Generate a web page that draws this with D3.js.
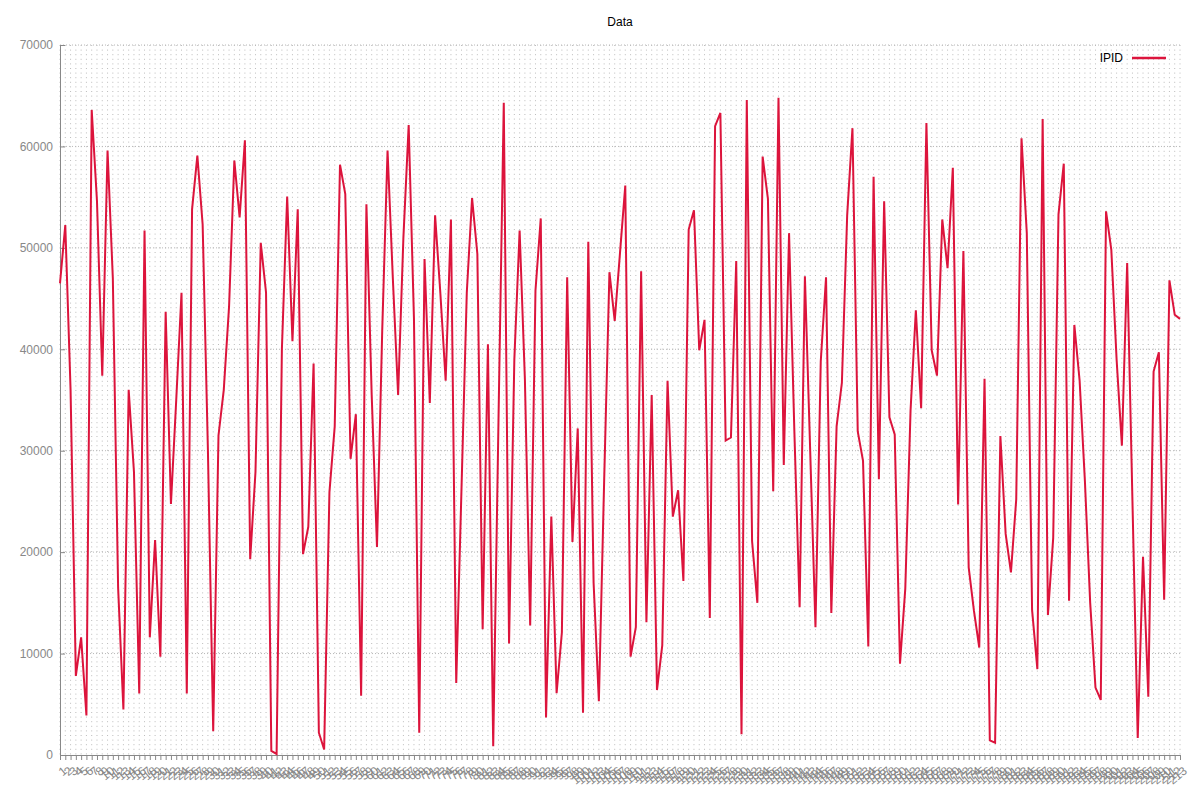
<!DOCTYPE html>
<html><head><meta charset="utf-8">
<script src="https://cdn.jsdelivr.net/npm/d3@7/dist/d3.min.js"></script>
<style>
body{margin:0;background:#fff;}
svg{display:block;font-family:"Liberation Sans",Arial,sans-serif;}
</style>
</head><body>
<svg id="chart" width="1200" height="800"></svg>
<script>
const chartTitle = "Data";
const seriesName = "IPID";
const ipid = [
46500,52250,36000,7800,11600,3900,63600,54600,37400,59600,
47000,16500,4480,36000,27900,6060,51700,11600,21200,9700,
43700,24750,35000,45570,6060,53800,59100,52300,30000,2350,
31500,36000,44200,58600,53000,60600,19300,27900,50500,45600,
400,100,40000,55070,40800,53800,19800,22500,38600,2200,
540,25900,32400,58200,55300,29200,33600,5840,54300,35500,
20500,42000,59600,47000,35500,51000,62100,43000,2200,48900,
34700,53200,45500,36900,52800,7100,26300,45600,54900,49400,
12400,40500,860,33000,64300,11000,39000,51700,37000,12760,
45800,52900,3700,23500,6100,12100,47100,21000,32200,4160,
50600,17000,5300,27000,47600,42800,49500,56150,9700,12600,
47700,13100,35500,6400,10800,36900,23500,26100,17150,51800,
53700,39900,42900,13500,62000,63300,31000,31300,48700,2040,
64570,21100,15000,59000,54840,26000,64800,28600,51450,32000,
14570,47200,30000,12600,38800,47100,14000,32400,36700,53200,
61800,31900,29000,10700,57000,27200,54600,33300,31600,9000,
16400,34000,43850,34200,62300,39900,37400,52800,48000,57900,
24700,49700,18500,14200,10600,37100,1450,1220,31450,21800,
18000,25200,60800,51450,14300,8460,62700,13800,21400,53300,
58300,15200,42400,36900,27000,15000,6650,5430,53600,49800,
39000,30500,48500,25000,1670,19550,5750,37800,39700,15300,
46800,43400,43000
];
const categories = ipid.map((d, i) => String(i + 1));
const yTickValues = [0,10000,20000,30000,40000,50000,60000,70000];

(function () {
const svg = d3.select("#chart");
const mL = 60, mR = 1180, mT = 45, mB = 755;

const x = d3.scalePoint().domain(categories).range([mL, mR]);
const y = d3.scaleLinear().domain([0, 70000]).range([mB, mT]);

// vertical dotted grid (one per category)
svg.append("g").selectAll("line").data(categories).join("line")
  .attr("x1", d => x(d)).attr("x2", d => x(d))
  .attr("y1", mT).attr("y2", mB)
  .attr("stroke", "#bcbcbc").attr("stroke-width", 1)
  .attr("stroke-dasharray", "1,3.6");

// horizontal major grid
svg.append("g").selectAll("line").data(yTickValues.filter(v => v > 0)).join("line")
  .attr("x1", mL).attr("x2", mR)
  .attr("y1", d => y(d)).attr("y2", d => y(d))
  .attr("stroke", "#b8b8b8").attr("stroke-width", 1)
  .attr("stroke-dasharray", "1,2");

// axes
const yAxis = d3.axisLeft(y).tickValues(yTickValues).tickFormat(d3.format("d"))
  .tickSizeInner(-5).tickSizeOuter(0).tickPadding(7);
const gy = svg.append("g").attr("transform", `translate(${mL},0)`).call(yAxis);
gy.select(".domain").attr("stroke", "#888");
gy.selectAll(".tick line").attr("stroke", "#888");
gy.selectAll("text").attr("fill", "#888").attr("font-size", 12)
  .attr("font-family", "Liberation Sans, Arial, sans-serif");

const xAxis = d3.axisBottom(x).tickSizeInner(5).tickSizeOuter(0).tickPadding(4);
const gx = svg.append("g").attr("transform", `translate(0,${mB})`).call(xAxis);
gx.select(".domain").attr("stroke", "#888");
gx.selectAll(".tick line").attr("stroke", "#888");
gx.selectAll("text").attr("fill", "#888").attr("font-size", 12)
  .attr("font-family", "Liberation Sans, Arial, sans-serif")
  .attr("text-anchor", "end").attr("dy", "0.35em")
  .attr("transform", "translate(-1,7) rotate(-40)");

// data line
const line = d3.line().x((d, i) => x(categories[i])).y(d => y(d));
svg.append("path").datum(ipid)
  .attr("d", line).attr("fill", "none")
  .attr("stroke", "#dc143c").attr("stroke-width", 2)
  .attr("stroke-linejoin", "miter");

// title
svg.append("text").attr("x", (mL + mR) / 2).attr("y", 26)
  .attr("text-anchor", "middle").attr("font-size", 12).attr("fill", "#000")
  .text(chartTitle);

// legend
const lg = svg.append("g");
lg.append("text").attr("x", 1123).attr("y", 62).attr("text-anchor", "end")
  .attr("font-size", 12).attr("fill", "#000").text(seriesName);
lg.append("line").attr("x1", 1132).attr("x2", 1166).attr("y1", 58).attr("y2", 58)
  .attr("stroke", "#dc143c").attr("stroke-width", 2.5);
})();
</script>
</body></html>
